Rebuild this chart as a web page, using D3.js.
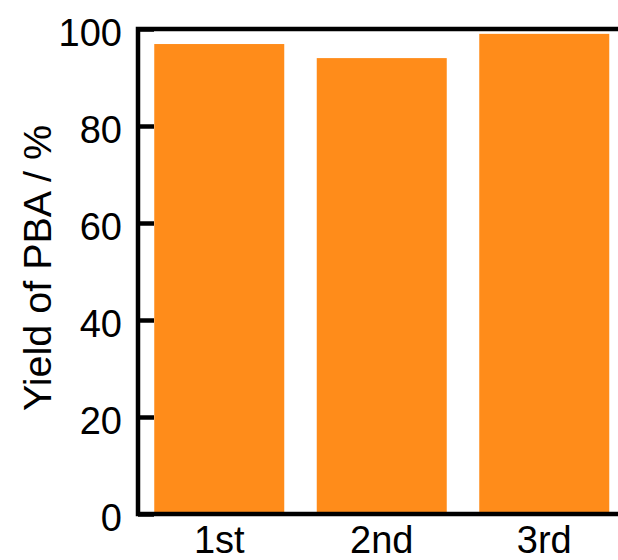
<!DOCTYPE html>
<html>
<head>
<meta charset="utf-8">
<script src="https://cdn.jsdelivr.net/npm/d3@7"></script>
<style>
  body { margin: 0; background: #fff; }
  text { font-family: "Liberation Sans", Arial, sans-serif; fill: #000; }
</style>
</head>
<body>
<svg id="chart" width="618" height="560"></svg>
<script>
// runs and yields
var runs = ["1st", "2nd", "3rd"];
var yields = [96.9, 94.0, 99.0];
var yTicks = [0, 20, 40, 60, 80, 100];

var svg = d3.select("#chart");
var plotLeft = 138, plotRight = 625.5, plotTop = 29, plotBottom = 514;

var x = d3.scaleBand()
    .domain(runs)
    .range([plotLeft, plotRight])
    .paddingInner(0.2)
    .paddingOuter(0.1);

var y = d3.scaleLinear()
    .domain([0, 100])
    .range([plotBottom, plotTop]);

// y ticks (inward), drawn under the bars
var yAxis = svg.append("g")
    .attr("transform", "translate(" + plotLeft + ",0)")
    .call(d3.axisRight(y).tickValues(yTicks).tickSize(16).tickFormat(""));
yAxis.select(".domain").remove();
yAxis.selectAll("line").attr("stroke", "#000").attr("stroke-width", 4.5);

// bars
svg.append("g")
    .selectAll("rect")
    .data(yields)
    .enter().append("rect")
    .attr("x", function(d, i) { return x(runs[i]); })
    .attr("y", function(d) { return y(d); })
    .attr("width", x.bandwidth())
    .attr("height", function(d) { return y(0) - y(d); })
    .attr("fill", "#ff8c1a");

// frame
svg.append("rect")
    .attr("x", plotLeft).attr("y", plotTop)
    .attr("width", plotRight - plotLeft).attr("height", plotBottom - plotTop)
    .attr("fill", "none")
    .attr("stroke", "#000")
    .attr("stroke-width", 4.5);

// y tick labels
svg.append("g")
    .selectAll("text")
    .data(yTicks)
    .enter().append("text")
    .attr("x", 122)
    .attr("y", function(d) { return y(d) + 16.5; })
    .attr("text-anchor", "end")
    .attr("font-size", 38)
    .text(function(d) { return d; });

// x labels
svg.append("g")
    .selectAll("text")
    .data(runs)
    .enter().append("text")
    .attr("x", function(d) { return x(d) + x.bandwidth() / 2; })
    .attr("y", 553)
    .attr("text-anchor", "middle")
    .attr("font-size", 38)
    .text(function(d) { return d; });

// axis title
svg.append("text")
    .attr("transform", "translate(51,268) rotate(-90)")
    .attr("text-anchor", "middle")
    .attr("font-size", 39.5)
    .text("Yield of PBA / %");
</script>
</body>
</html>
